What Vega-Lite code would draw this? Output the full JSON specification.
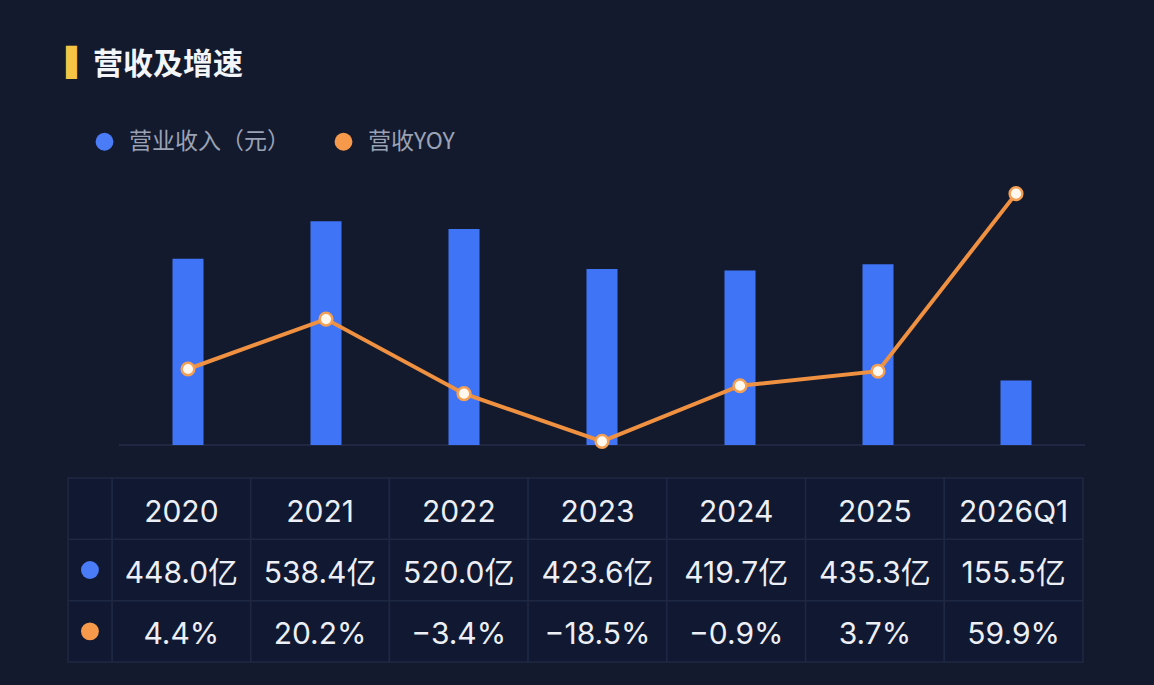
{
  "$schema": "https://vega.github.io/schema/vega-lite/v6.json",
  "width": 1154,
  "height": 685,
  "autosize": {"type": "fit", "contains": "padding"},
  "padding": {"top": 50, "left": 0, "right": 0, "bottom": 0},
  "background": "#141a2e",
  "title": {"text": "▌", "anchor": "start", "frame": "group", "dx": 66, "offset": 0, "fontSize": 28, "color": "#f6c445", "font": "DejaVu Sans"},
  "config": {"view": {"stroke": null}, "font": "Noto Sans CJK SC"},
  "datasets": {
    "fin": [
      {"i": 0, "period": "2020", "revenue": 448.0, "yoy": 4.4},
      {"i": 1, "period": "2021", "revenue": 538.4, "yoy": 20.2},
      {"i": 2, "period": "2022", "revenue": 520.0, "yoy": -3.4},
      {"i": 3, "period": "2023", "revenue": 423.6, "yoy": -18.5},
      {"i": 4, "period": "2024", "revenue": 419.7, "yoy": -0.9},
      {"i": 5, "period": "2025", "revenue": 435.3, "yoy": 3.7},
      {"i": 6, "period": "2026Q1", "revenue": 155.5, "yoy": 59.9}
    ]
  },
  "data": {"name": "fin"},
  "resolve": {"scale": {"x": "independent", "y": "independent"}},
  "layer": [
    {
      "data": {"values": [{}]},
      "mark": {"type": "rule", "color": "#252e48", "strokeWidth": 1.5},
      "encoding": {
        "x": {"datum": -0.5, "type": "quantitative", "scale": {"domain": [-0.5, 6.5], "range": [119, 1085], "nice": false, "zero": false}, "axis": null},
        "x2": {"datum": 6.5},
        "y": {"datum": 0, "type": "quantitative", "scale": {"domain": [0, 673.9], "range": [367, 87], "nice": false, "zero": false}, "axis": null}
      }
    },
    {
      "transform": [
        {"calculate": "datum.i - 0.1123", "as": "barLeft"},
        {"calculate": "datum.i + 0.1123", "as": "barRight"}
      ],
      "mark": {"type": "bar", "color": "#3f74f7"},
      "encoding": {
        "x": {"field": "barLeft", "type": "quantitative", "scale": {"domain": [-0.5, 6.5], "range": [119, 1085], "nice": false, "zero": false}, "axis": null},
        "x2": {"field": "barRight"},
        "y": {"field": "revenue", "type": "quantitative", "scale": {"domain": [0, 673.9], "range": [367, 87], "nice": false, "zero": false}, "axis": null},
        "y2": {"datum": 0}
      }
    },
    {
      "mark": {"type": "line", "color": "#ef9140", "strokeWidth": 4},
      "encoding": {
        "x": {"field": "i", "type": "quantitative", "scale": {"domain": [-0.5, 6.5], "range": [119, 1085], "nice": false, "zero": false}, "axis": null},
        "y": {"field": "yoy", "type": "quantitative", "scale": {"domain": [-19.65, 68.96], "range": [367, 87], "nice": false, "zero": false}, "axis": null}
      }
    },
    {
      "mark": {"type": "point", "filled": true, "fill": "#fff8ee", "stroke": "#f3a055", "strokeWidth": 2.5, "size": 160, "opacity": 1},
      "encoding": {
        "x": {"field": "i", "type": "quantitative", "scale": {"domain": [-0.5, 6.5], "range": [119, 1085], "nice": false, "zero": false}, "axis": null},
        "y": {"field": "yoy", "type": "quantitative", "scale": {"domain": [-19.65, 68.96], "range": [367, 87], "nice": false, "zero": false}, "axis": null}
      }
    },
    {
      "transform": [
        {"calculate": "datum.i - 0.5", "as": "left"},
        {"calculate": "datum.i + 0.5", "as": "right"}
      ],
      "mark": {"type": "rect", "fill": "#111832", "stroke": "#1f2843", "strokeWidth": 1.5},
      "encoding": {
        "x": {"field": "left", "type": "quantitative", "scale": {"domain": [-0.5, 6.5], "range": [112, 1083], "nice": false, "zero": false}, "axis": null},
        "x2": {"field": "right"},
        "y": {"datum": 0, "type": "quantitative", "scale": {"domain": [0, 3], "range": [400, 584], "nice": false, "zero": false}, "axis": null},
        "y2": {"datum": 3}
      }
    },
    {
      "data": {"values": [{}]},
      "mark": {"type": "rect", "fill": "#111832", "stroke": "#1f2843", "strokeWidth": 1.5},
      "encoding": {
        "x": {"datum": -0.817, "type": "quantitative", "scale": {"domain": [-0.5, 6.5], "range": [112, 1083], "nice": false, "zero": false}, "axis": null},
        "x2": {"datum": -0.5},
        "y": {"datum": 0, "type": "quantitative", "scale": {"domain": [0, 3], "range": [400, 584], "nice": false, "zero": false}, "axis": null},
        "y2": {"datum": 3}
      }
    },
    {
      "data": {"values": [{}]},
      "mark": {"type": "rule", "color": "#1f2843", "strokeWidth": 1.5},
      "encoding": {
        "x": {"datum": -0.817, "type": "quantitative", "scale": {"domain": [-0.5, 6.5], "range": [112, 1083], "nice": false, "zero": false}, "axis": null},
        "x2": {"datum": 6.5},
        "y": {"datum": 1, "type": "quantitative", "scale": {"domain": [0, 3], "range": [400, 584], "nice": false, "zero": false}, "axis": null}
      }
    },
    {
      "data": {"values": [{}]},
      "mark": {"type": "rule", "color": "#1f2843", "strokeWidth": 1.5},
      "encoding": {
        "x": {"datum": -0.817, "type": "quantitative", "scale": {"domain": [-0.5, 6.5], "range": [112, 1083], "nice": false, "zero": false}, "axis": null},
        "x2": {"datum": 6.5},
        "y": {"datum": 2, "type": "quantitative", "scale": {"domain": [0, 3], "range": [400, 584], "nice": false, "zero": false}, "axis": null}
      }
    },
    {
      "mark": {"type": "text", "fontSize": 30, "font": "Inter, Noto Sans CJK SC", "color": "#eceff5", "baseline": "middle", "dy": 4},
      "encoding": {
        "x": {"field": "i", "type": "quantitative", "scale": {"domain": [-0.5, 6.5], "range": [112, 1083], "nice": false, "zero": false}, "axis": null},
        "y": {"datum": 0.5, "type": "quantitative", "scale": {"domain": [0, 3], "range": [400, 584], "nice": false, "zero": false}, "axis": null},
        "text": {"field": "period"}
      }
    },
    {
      "transform": [{"calculate": "format(datum.revenue, '.1f') + '亿'", "as": "revLabel"}],
      "mark": {"type": "text", "fontSize": 30, "font": "Inter, Noto Sans CJK SC", "color": "#eceff5", "baseline": "middle", "dy": 4},
      "encoding": {
        "x": {"field": "i", "type": "quantitative", "scale": {"domain": [-0.5, 6.5], "range": [112, 1083], "nice": false, "zero": false}, "axis": null},
        "y": {"datum": 1.5, "type": "quantitative", "scale": {"domain": [0, 3], "range": [400, 584], "nice": false, "zero": false}, "axis": null},
        "text": {"field": "revLabel"}
      }
    },
    {
      "transform": [{"calculate": "format(datum.yoy, '.1f') + '%'", "as": "yoyLabel"}],
      "mark": {"type": "text", "fontSize": 30, "font": "Inter, Noto Sans CJK SC", "color": "#eceff5", "baseline": "middle", "dy": 4},
      "encoding": {
        "x": {"field": "i", "type": "quantitative", "scale": {"domain": [-0.5, 6.5], "range": [112, 1083], "nice": false, "zero": false}, "axis": null},
        "y": {"datum": 2.5, "type": "quantitative", "scale": {"domain": [0, 3], "range": [400, 584], "nice": false, "zero": false}, "axis": null},
        "text": {"field": "yoyLabel"}
      }
    },
    {
      "data": {"values": [{}]},
      "mark": {"type": "circle", "size": 320, "opacity": 1},
      "encoding": {
        "x": {"datum": -0.659, "type": "quantitative", "scale": {"domain": [-0.5, 6.5], "range": [112, 1083], "nice": false, "zero": false}, "axis": null},
        "y": {"datum": 1.5, "type": "quantitative", "scale": {"domain": [0, 3], "range": [400, 584], "nice": false, "zero": false}, "axis": null},
        "color": {
          "datum": "营业收入（元）",
          "type": "nominal",
          "scale": {"domain": ["营业收入（元）", "营收YOY"], "range": ["#4a7cf7", "#f6994a"]},
          "legend": {
            "orient": "none",
            "legendX": 93,
            "legendY": -28,
            "direction": "horizontal",
            "padding": 0,
            "title": "营收及增速",
            "titleFont": "Noto Sans CJK SC",
            "titleFontSize": 30,
            "titleFontWeight": "bold",
            "titleColor": "#f3f5f9",
            "titleAnchor": "start",
            "titlePadding": 50,
            "titleLimit": 400,
            "labelFont": "Noto Sans CJK SC",
            "labelFontSize": 23,
            "labelColor": "#9aa2b5",
            "labelLimit": 400,
            "labelOffset": 13,
            "columnPadding": 42,
            "symbolType": "circle",
            "symbolSize": 320,
            "symbolStrokeWidth": 0,
            "symbolOpacity": 1
          }
        }
      }
    },
    {
      "data": {"values": [{}]},
      "mark": {"type": "circle", "size": 320, "opacity": 1},
      "encoding": {
        "x": {"datum": -0.659, "type": "quantitative", "scale": {"domain": [-0.5, 6.5], "range": [112, 1083], "nice": false, "zero": false}, "axis": null},
        "y": {"datum": 2.5, "type": "quantitative", "scale": {"domain": [0, 3], "range": [400, 584], "nice": false, "zero": false}, "axis": null},
        "color": {"datum": "营收YOY", "type": "nominal"}
      }
    }
  ]
}
